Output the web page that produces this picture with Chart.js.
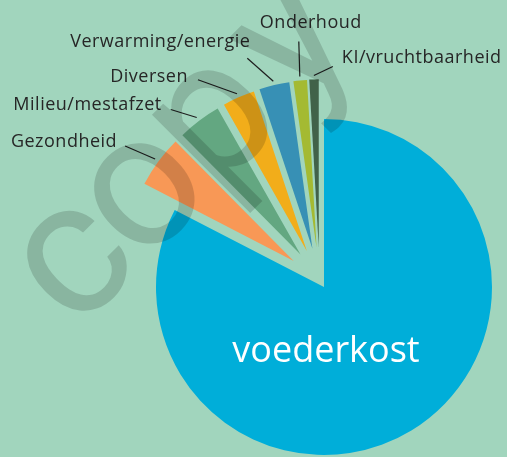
<!DOCTYPE html>
<html>
<head>
<meta charset="utf-8">
<script src="https://cdn.jsdelivr.net/npm/chart.js@4.4.1/dist/chart.umd.min.js"></script>
<style>
  html, body { margin: 0; padding: 0; background: #a1d5bd; }
  #wrap { width: 507px; height: 457px; }
</style>
</head>
<body>
<div id="wrap"><canvas id="kosten" width="507" height="457"></canvas></div>
<script>
// Kostenverdeling (aandeel in %), clockwise from 12 o'clock
const categories = ['voederkost', 'Gezondheid', 'Milieu/mestafzet', 'Diversen', 'Verwarming/energie', 'Onderhoud', 'KI/vruchtbaarheid'];
const shares = [82.5, 5.0, 4.2, 3.1, 2.9, 1.3, 0.9];
const sliceColors = ['#00aed9', '#f89856', '#63a781', '#f2ad1a', '#3790b5', '#a4ba32', '#416249'];

const PIE_RADIUS = 168;
const EXPLODE = 40;        // px the small slices are pulled out
const FAN = 0.8;           // how far each pull follows its own slice direction

// leader line from the slice edge (dx, dy), then text offset from the line end
const labelLayout = [
    null,
    { line: [-30, -13], text: [-8, 1], align: 'right' },
    { line: [-26, -8], text: [-9, 1], align: 'right' },
    { line: [-39, -14], text: [-10, 2], align: 'right' },
    { line: [-26, -23], text: [3, -11], align: 'right' },
    { line: [-1, -35], text: [12, -14], align: 'center' },
    { line: [19, -9], text: [9, -3], align: 'left' }
];

// pull every slice but the first outwards, fanned around the middle of the group
const explodeSlices = {
    id: 'explodeSlices',
    afterDatasetUpdate(chart, args) {
        const arcs = args.meta.data;
        const groupMid = (arcs[1].startAngle + arcs[arcs.length - 1].endAngle) / 2;
        arcs.forEach((arc, i) => {
            if (i === 0) return;
            const mid = (arc.startAngle + arc.endAngle) / 2;
            const dir = groupMid + FAN * (mid - groupMid);
            arc.x += Math.cos(dir) * EXPLODE;
            arc.y += Math.sin(dir) * EXPLODE;
        });
    }
};

const sliceLabels = {
    id: 'sliceLabels',
    afterDatasetsDraw(chart) {
        const ctx = chart.ctx;
        const meta = chart.getDatasetMeta(0);
        ctx.save();
        meta.data.forEach((arc, i) => {
            const mid = (arc.startAngle + arc.endAngle) / 2;
            if (i === 0) {
                ctx.fillStyle = '#ffffff';
                ctx.font = '36px "Open Sans"';
                ctx.textAlign = 'center';
                ctx.textBaseline = 'alphabetic';
                ctx.fillText(categories[0], arc.x + 2, arc.y + 75);
                return;
            }
            const r = arc.outerRadius + 4;
            const sx = arc.x + Math.cos(mid) * r;
            const sy = arc.y + Math.sin(mid) * r;
            const lay = labelLayout[i];
            const ex = sx + lay.line[0];
            const ey = sy + lay.line[1];
            ctx.strokeStyle = '#1e1e1e';
            ctx.lineWidth = 1.2;
            ctx.beginPath();
            ctx.moveTo(sx, sy);
            ctx.lineTo(ex, ey);
            ctx.stroke();
            ctx.fillStyle = '#262626';
            ctx.font = '18px "Open Sans"';
            ctx.letterSpacing = '0.5px';
            ctx.textAlign = lay.align;
            ctx.textBaseline = 'alphabetic';
            ctx.fillText(categories[i], ex + lay.text[0], ey + lay.text[1]);
        });
        ctx.restore();
    }
};

// translucent "copy" stamp across the chart
const watermark = {
    id: 'watermark',
    afterDraw(chart) {
        const off = document.createElement('canvas');
        off.width = chart.width;
        off.height = chart.height;
        const o = off.getContext('2d');
        o.translate(73, 265);
        o.rotate(-45 * Math.PI / 180);
        o.font = '190px Roboto';
        o.letterSpacing = '-6px';
        o.fillStyle = '#000';
        const x0 = -o.measureText('c').width / 2;
        o.fillText('cop', x0, 50);
        o.fillText('y', x0 + o.measureText('cop').width + 18, 50);

        const ctx = chart.ctx;
        ctx.save();
        ctx.globalAlpha = 0.15;
        ctx.drawImage(off, 0, 0);
        ctx.restore();
    }
};

new Chart(document.getElementById('kosten'), {
    type: 'pie',
    data: {
        labels: categories,
        datasets: [{
            data: shares,
            backgroundColor: sliceColors,
            borderWidth: 0,
            hoverOffset: 0
        }]
    },
    options: {
        responsive: false,
        animation: false,
        radius: PIE_RADIUS,
        layout: { padding: { left: 141, top: 117, right: 0, bottom: 0 } },
        plugins: {
            legend: { display: false },
            tooltip: { enabled: false }
        },
        events: []
    },
    plugins: [explodeSlices, sliceLabels, watermark]
});
</script>
</body>
</html>
